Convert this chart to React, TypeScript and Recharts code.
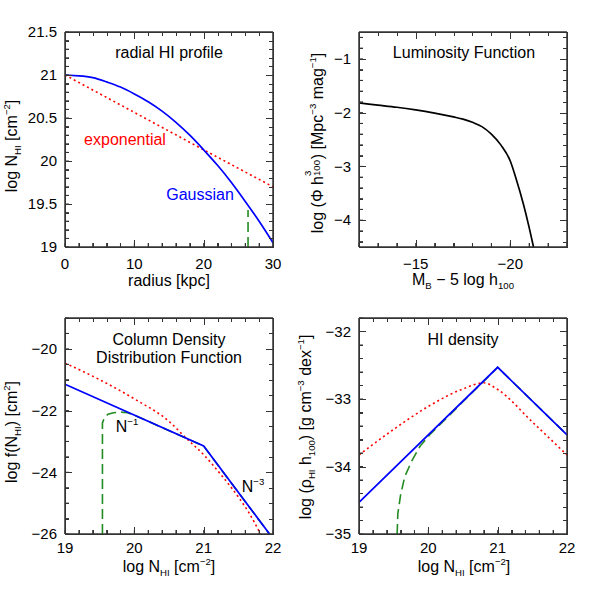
import React from 'react'
import { LineChart, Line, XAxis, YAxis, ReferenceLine } from 'recharts'

const FONT = '"Liberation Sans", Arial, sans-serif'
const RED = '#ff0000'
const BLUE = '#0000ff'
const GREEN = '#228b22'
const FRAME = '#333'

// radial HI profile
const radius = [0, 2, 4, 6, 8, 10, 12, 14, 16, 18, 20, 22, 24, 26, 28, 30]
const gaussLogN = [21.0, 20.99, 20.97, 20.92, 20.86, 20.78, 20.69, 20.58, 20.45, 20.3, 20.13, 19.95, 19.75, 19.53, 19.3, 19.05]
const expoRadius = [0, 20, 30]
const expoLogN = [21.0, 20.13, 19.7]
const cutRadius = [26.4, 26.4]
const cutLogN = [19.0, 19.43]

// luminosity function
const lfMag = [-12, -13, -14, -15, -16, -17, -17.5, -18, -18.5, -19, -19.5, -20, -20.3, -20.7, -21, -21.23]
const lfLogPhi = [-1.82, -1.86, -1.9, -1.95, -2.01, -2.08, -2.12, -2.18, -2.26, -2.4, -2.6, -2.9, -3.22, -3.71, -4.14, -4.5]

// column density distribution function
const cddNH = [19, 21, 21.95]
const cddPower = [-21.15, -23.15, -26.0]
const cddFitNH = [19, 19.5, 20, 20.5, 20.75, 21, 21.25, 21.5, 21.65, 21.82]
const cddFit = [-20.46, -21.0, -21.62, -22.35, -22.9, -23.43, -24.08, -24.8, -25.3, -26.0]
const cddCutNH = [19.54, 19.54, 19.57, 19.62, 19.7, 19.8, 19.9, 20, 21, 21.95]
const cddCut = [-26, -22.4, -22.22, -22.12, -22.07, -22.05, -22.07, -22.15, -23.15, -26.0]

// HI density
const rhoNH = [19, 21, 22]
const rhoPower = [-34.53, -32.53, -33.53]
const rhoFitNH = [19, 19.5, 20, 20.5, 20.8, 21, 21.5, 22]
const rhoFit = [-33.83, -33.45, -33.11, -32.85, -32.76, -32.86, -33.34, -33.83]
const rhoCutNH = [19.55, 19.56, 19.6, 19.66, 19.76, 19.88, 20.02, 21, 22]
const rhoCut = [-35, -34.7, -34.42, -34.15, -33.92, -33.7, -33.53, -32.53, -33.53]

// tick labels
const p1XMajor = [0, 10, 20, 30]
const p1YMajor = [19, 19.5, 20, 20.5, 21, 21.5]
const p2XMajor = [-15, -20]
const p2YMajor = [-4, -3, -2, -1]
const nhMajor = [19, 20, 21, 22]
const p3YMajor = [-26, -24, -22, -20]
const p4YMajor = [-35, -34, -33, -32]

const range = (a: number, b: number, step: number) => {
  const out: number[] = []
  for (let v = a; v <= b + 1e-9; v += step) out.push(Math.round(v * 1000) / 1000)
  return out
}
const zip = (xs: number[], ys: number[]) => xs.map((x, i) => ({ x, y: ys[i] }))
const fmt = (v: number) => (v < 0 ? '\u2212' + String(Math.abs(v)) : String(v))
const isMajor = (v: number, majors: number[]) => majors.some((m) => Math.abs(m - v) < 1e-6)
const labelOnly = (majors: number[]) => (v: number) => (isMajor(v, majors) ? fmt(v) : '')

const TICK_STYLE = { fontSize: 15, fill: '#000', fontFamily: FONT }
const TICK_LINE = { stroke: FRAME, strokeWidth: 1 }

const PANELS = {
  p1: {
    xDomain: [0, 30], yDomain: [19, 21.5], xTicks: range(0, 30, 2), yTicks: range(19, 21.5, 0.1),
    xMajor: p1XMajor, yMajor: p1YMajor, xFmt: labelOnly(p1XMajor), yFmt: labelOnly(p1YMajor), data: zip(radius, gaussLogN),
  },
  p2: {
    xDomain: [-23, -12], yDomain: [-4.5, -0.5], xTicks: range(-23, -12, 1), yTicks: range(-4.4, -0.6, 0.2),
    xMajor: p2XMajor, yMajor: p2YMajor, xFmt: labelOnly(p2XMajor), yFmt: labelOnly(p2YMajor), data: zip(lfMag, lfLogPhi),
  },
  p3: {
    xDomain: [19, 22], yDomain: [-26, -19], xTicks: range(19, 22, 0.2), yTicks: range(-26, -19, 0.5),
    xMajor: nhMajor, yMajor: p3YMajor, xFmt: labelOnly(nhMajor), yFmt: labelOnly(p3YMajor), data: zip(cddNH, cddPower),
  },
  p4: {
    xDomain: [19, 22], yDomain: [-35, -31.8], xTicks: range(19, 22, 0.2), yTicks: range(-35, -31.8, 0.2),
    xMajor: nhMajor, yMajor: p4YMajor, xFmt: labelOnly(nhMajor), yFmt: labelOnly(p4YMajor), data: zip(rhoNH, rhoPower),
  },
}

const SERIES = {
  expo: zip(expoRadius, expoLogN),
  cut1: zip(cutRadius, cutLogN),
  gauss: zip(radius, gaussLogN),
  lf: zip(lfMag, lfLogPhi),
  cddFit: zip(cddFitNH, cddFit),
  cddCut: zip(cddCutNH, cddCut),
  cddPow: zip(cddNH, cddPower),
  rhoFit: zip(rhoFitNH, rhoFit),
  rhoCut: zip(rhoCutNH, rhoCut),
  rhoPow: zip(rhoNH, rhoPower),
}

const BOTTOM_H = 30
const TOP_H = 10
const LEFT_W = 40
const RIGHT_W = 10
const TICK = -4

type Box = [number, number, number, number]

// tick positions along the panel box, from the same domains the chart uses
function tickMarks(cfg: any, plot: Box, reversed?: boolean) {
  const [pl, pt, pr, pb] = plot
  const [x0, x1] = cfg.xDomain
  const [y0, y1] = cfg.yDomain
  const sx = (v: number) => (reversed ? pr - ((v - x0) / (x1 - x0)) * (pr - pl) : pl + ((v - x0) / (x1 - x0)) * (pr - pl))
  const sy = (v: number) => pb - ((v - y0) / (y1 - y0)) * (pb - pt)
  const out: { left: number; top: number; w: number; h: number; k: string }[] = []
  cfg.xTicks.forEach((v: number) => {
    const len = isMajor(v, cfg.xMajor) ? 7 : 4
    const x = Math.round(sx(v))
    out.push({ k: 'xb' + v, left: x, top: pb - len, w: 1, h: len })
    out.push({ k: 'xt' + v, left: x, top: pt, w: 1, h: len })
  })
  cfg.yTicks.forEach((v: number) => {
    const len = isMajor(v, cfg.yMajor) ? 7 : 4
    const y = Math.round(sy(v))
    out.push({ k: 'yl' + v, left: pl, top: y, w: len, h: 1 })
    out.push({ k: 'yr' + v, left: pr - len, top: y, w: len, h: 1 })
  })
  return out
}

function HtmlFrame({ cfg, plot, reversed }: { cfg: any; plot: Box; reversed?: boolean }) {
  const [pl, pt, pr, pb] = plot
  const marks = tickMarks(cfg, plot, reversed)
  return (
    <>
      <div style={{ position: 'absolute', left: pl, top: pt, width: pr - pl + 1, height: pb - pt + 1, boxSizing: 'border-box', border: `1px solid ${FRAME}`, pointerEvents: 'none' }} />
      {marks.map((m) => (
        <div key={m.k} style={{ position: 'absolute', left: m.left, top: m.top, width: m.w, height: m.h, background: FRAME, pointerEvents: 'none' }} />
      ))}
    </>
  )
}

interface PanelProps {
  cfg: any
  left: number
  top: number
  width: number
  height: number
  plot: Box // left, top, right, bottom in page px
  labelGap: number
  reversed?: boolean
  children: React.ReactNode
}

function Panel({ cfg, left, top, width, height, plot, labelGap, reversed, children }: PanelProps) {
  const [pl, pt, pr, pb] = plot
  const margin = {
    left: pl - left - LEFT_W,
    top: pt - top - TOP_H,
    right: left + width - pr - RIGHT_W,
    bottom: top + height - pb - BOTTOM_H,
  }
  const local: Box = [pl - left, pt - top, pr - left, pb - top]
  return (
    <div style={{ position: 'absolute', left, top, width, height }}>
      <LineChart width={width} height={height} margin={margin} data={cfg.data}>
        <XAxis xAxisId="b" dataKey="x" type="number" orientation="bottom" height={BOTTOM_H} domain={cfg.xDomain} ticks={cfg.xTicks} interval={0} reversed={!!reversed} tickFormatter={cfg.xFmt} tick={TICK_STYLE} tickLine={TICK_LINE} tickSize={TICK} tickMargin={-TICK + labelGap} stroke={FRAME} />
        <XAxis xAxisId="t" dataKey="x" type="number" orientation="top" height={TOP_H} domain={cfg.xDomain} ticks={cfg.xTicks} interval={0} reversed={!!reversed} tick={false} tickLine={TICK_LINE} tickSize={TICK} stroke={FRAME} />
        <YAxis yAxisId="l" dataKey="y" type="number" orientation="left" width={LEFT_W} domain={cfg.yDomain} ticks={cfg.yTicks} interval={0} tickFormatter={cfg.yFmt} tick={TICK_STYLE} tickLine={TICK_LINE} tickSize={TICK} tickMargin={-TICK + 8} stroke={FRAME} />
        <YAxis yAxisId="r" dataKey="y" type="number" orientation="right" width={RIGHT_W} domain={cfg.yDomain} ticks={cfg.yTicks} interval={0} tick={false} tickLine={TICK_LINE} tickSize={TICK} stroke={FRAME} />
        <ReferenceLine xAxisId="b" yAxisId="l" x={cfg.xDomain[0]} stroke={FRAME} />
        <ReferenceLine xAxisId="b" yAxisId="l" x={cfg.xDomain[1]} stroke={FRAME} />
        <ReferenceLine xAxisId="b" yAxisId="l" y={cfg.yDomain[0]} stroke={FRAME} />
        <ReferenceLine xAxisId="b" yAxisId="l" y={cfg.yDomain[1]} stroke={FRAME} />
        {children}
      </LineChart>
      <HtmlFrame cfg={cfg} plot={local} reversed={reversed} />
    </div>
  )
}

const Txt = ({ x, y, color = '#000', rotate = false, size = 16, children }: any) => (
  <div
    style={{
      position: 'absolute',
      left: x,
      top: y,
      transform: `translate(-50%, -50%)${rotate ? ' rotate(-90deg)' : ''}`,
      color,
      fontSize: size,
      fontFamily: FONT,
      whiteSpace: 'nowrap',
      lineHeight: 1,
      pointerEvents: 'none',
    }}
  >
    {children}
  </div>
)

const Sub = ({ children }: any) => (
  <span style={{ fontSize: '0.6em', position: 'relative', top: '0.4em' }}>{children}</span>
)
const Sup = ({ children }: any) => (
  <span style={{ fontSize: '0.6em', position: 'relative', top: '-0.75em' }}>{children}</span>
)
const SupSub = ({ sup, sub }: any) => (
  <span style={{ display: 'inline-block', position: 'relative', width: '1.05em', height: '1em' }}>
    <span style={{ position: 'absolute', left: 0, top: '-0.45em', fontSize: '0.6em' }}>{sup}</span>
    <span style={{ position: 'absolute', left: 0, top: '0.55em', fontSize: '0.6em' }}>{sub}</span>
  </span>
)

export default function App() {
  return (
    <div style={{ position: 'absolute', left: 0, top: 0, width: 599, height: 599, background: '#fff' }}>
      <Panel cfg={PANELS.p1} left={0} top={0} width={300} height={300} plot={[65, 32, 273, 247]} labelGap={11}>
        <Line xAxisId="b" yAxisId="l" data={SERIES.expo} dataKey="y" type="linear" stroke={RED} strokeWidth={1.6} strokeDasharray="2 3" dot={false} isAnimationActive={false} />
        <Line xAxisId="b" yAxisId="l" data={SERIES.cut1} dataKey="y" type="linear" stroke={GREEN} strokeWidth={1.6} strokeDasharray="10 5" dot={false} isAnimationActive={false} />
        <Line xAxisId="b" yAxisId="l" data={SERIES.gauss} dataKey="y" type="natural" stroke={BLUE} strokeWidth={1.7} dot={false} isAnimationActive={false} />
      </Panel>
      <Panel cfg={PANELS.p2} left={300} top={0} width={299} height={300} plot={[359, 32, 567, 247]} labelGap={11} reversed>
        <Line xAxisId="b" yAxisId="l" data={SERIES.lf} dataKey="y" type="monotone" stroke="#000" strokeWidth={1.7} dot={false} isAnimationActive={false} />
      </Panel>
      <Panel cfg={PANELS.p3} left={0} top={300} width={300} height={299} plot={[65, 318, 273, 534]} labelGap={8}>
        <Line xAxisId="b" yAxisId="l" data={SERIES.cddFit} dataKey="y" type="monotone" stroke={RED} strokeWidth={1.6} strokeDasharray="2 3" dot={false} isAnimationActive={false} />
        <Line xAxisId="b" yAxisId="l" data={SERIES.cddCut} dataKey="y" type="linear" stroke={GREEN} strokeWidth={1.6} strokeDasharray="10 5" dot={false} isAnimationActive={false} />
        <Line xAxisId="b" yAxisId="l" data={SERIES.cddPow} dataKey="y" type="linear" stroke={BLUE} strokeWidth={1.7} dot={false} isAnimationActive={false} />
      </Panel>
      <Panel cfg={PANELS.p4} left={300} top={300} width={299} height={299} plot={[359, 318, 567, 534]} labelGap={8}>
        <Line xAxisId="b" yAxisId="l" data={SERIES.rhoFit} dataKey="y" type="monotone" stroke={RED} strokeWidth={1.6} strokeDasharray="2 3" dot={false} isAnimationActive={false} />
        <Line xAxisId="b" yAxisId="l" data={SERIES.rhoCut} dataKey="y" type="linear" stroke={GREEN} strokeWidth={1.6} strokeDasharray="10 5" dot={false} isAnimationActive={false} />
        <Line xAxisId="b" yAxisId="l" data={SERIES.rhoPow} dataKey="y" type="linear" stroke={BLUE} strokeWidth={1.7} dot={false} isAnimationActive={false} />
      </Panel>

      <Txt x={169} y={53}>radial HI profile</Txt>
      <Txt x={125} y={140} color={RED}>exponential</Txt>
      <Txt x={200} y={195} color={BLUE}>Gaussian</Txt>
      <Txt x={12} y={146} rotate>
        log N<Sub>HI</Sub> [cm<Sup>{'\u2212'}2</Sup>]
      </Txt>
      <Txt x={169} y={281}>radius [kpc]</Txt>

      <Txt x={464} y={53}>Luminosity Function</Txt>
      <Txt x={316} y={143} rotate>
        log ({'\u03A6'} h<SupSub sup="3" sub="100" />) [Mpc<Sup>{'\u2212'}3</Sup> mag<Sup>{'\u2212'}1</Sup>]
      </Txt>
      <Txt x={463} y={280}>
        M<Sub>B</Sub> {'\u2212'} 5 log h<Sub>100</Sub>
      </Txt>

      <Txt x={169} y={340}>Column Density</Txt>
      <Txt x={169} y={358}>Distribution Function</Txt>
      <Txt x={127} y={427}>
        N<Sup>{'\u2212'}1</Sup>
      </Txt>
      <Txt x={253} y={487}>
        N<Sup>{'\u2212'}3</Sup>
      </Txt>
      <Txt x={12} y={432} rotate>
        log f(N<Sub>HI</Sub>) [cm<Sup>2</Sup>]
      </Txt>
      <Txt x={169} y={567}>
        log N<Sub>HI</Sub> [cm<Sup>{'\u2212'}2</Sup>]
      </Txt>

      <Txt x={463} y={340}>HI density</Txt>
      <Txt x={306} y={427} rotate>
        log ({'\u03C1'}<Sub>HI</Sub> h<Sub>100</Sub>) [g cm<Sup>{'\u2212'}3</Sup> dex<Sup>{'\u2212'}1</Sup>]
      </Txt>
      <Txt x={464} y={567}>
        log N<Sub>HI</Sub> [cm<Sup>{'\u2212'}2</Sup>]
      </Txt>
    </div>
  )
}
